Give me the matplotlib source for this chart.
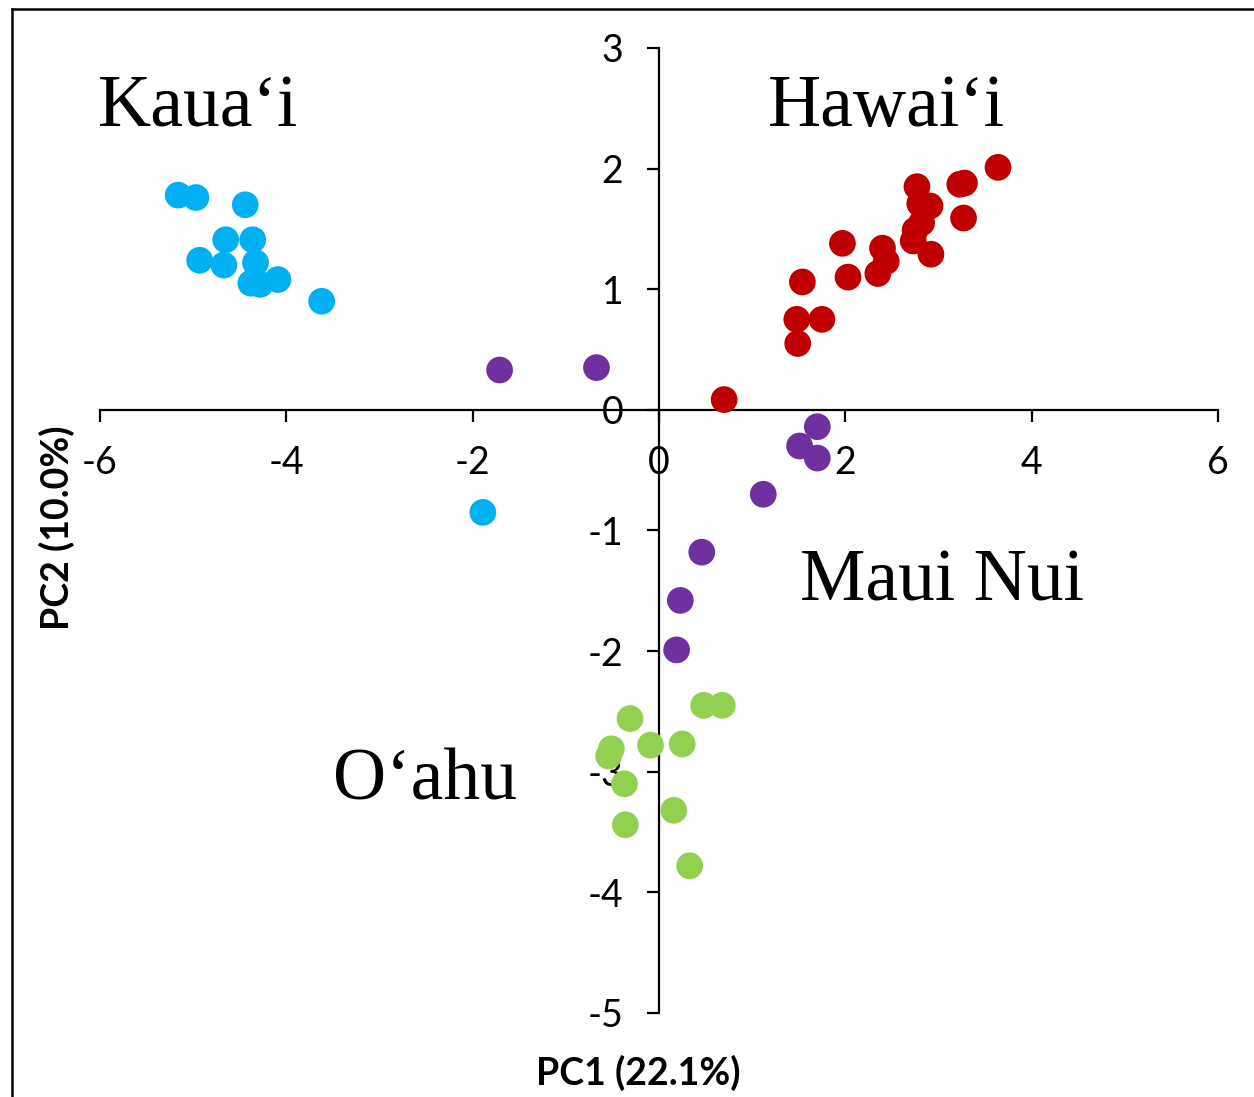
import matplotlib
matplotlib.use("Agg")
import matplotlib.pyplot as plt
from matplotlib.lines import Line2D

# PCA scores
kauai_x = [-5.16, -4.97, -4.44, -4.65, -4.36, -4.93, -4.67, -4.33, -4.38, -4.28, -4.09, -3.62, -1.89]
kauai_y = [1.78, 1.76, 1.70, 1.41, 1.41, 1.24, 1.20, 1.22, 1.05, 1.04, 1.08, 0.90, -0.85]

hawaii_x = [3.64, 3.28, 3.23, 2.77, 2.80, 2.91, 2.82, 2.75, 2.73, 2.92, 3.27,
            1.97, 2.40, 2.44, 2.35, 2.03, 1.54, 1.48, 1.75, 1.49, 0.70]
hawaii_y = [2.01, 1.88, 1.87, 1.85, 1.71, 1.69, 1.55, 1.49, 1.40, 1.29, 1.59,
            1.38, 1.34, 1.23, 1.13, 1.10, 1.06, 0.75, 0.75, 0.55, 0.085]

maui_x = [-1.71, -0.67, 1.70, 1.51, 1.70, 1.12, 0.46, 0.23, 0.19]
maui_y = [0.33, 0.35, -0.14, -0.30, -0.40, -0.70, -1.18, -1.58, -1.99]

oahu_x = [0.48, 0.68, -0.31, -0.51, -0.54, -0.09, 0.25, -0.37, 0.16, -0.36, 0.33]
oahu_y = [-2.45, -2.45, -2.56, -2.81, -2.87, -2.78, -2.77, -3.10, -3.32, -3.44, -3.78]

groups = [
    ("Kaua\u2018i", kauai_x, kauai_y, "#00B0F0", (-6.02, 2.35)),
    ("Hawai\u2018i", hawaii_x, hawaii_y, "#C00000", (1.17, 2.35)),
    ("Maui Nui", maui_x, maui_y, "#7030A0", (1.51, -1.58)),
    ("O\u2018ahu", oahu_x, oahu_y, "#92D050", (-3.50, -3.23)),
]

x_ticks = [-6, -4, -2, 0, 2, 4, 6]
y_ticks = [-5, -4, -3, -2, -1, 0, 1, 2, 3]

plt.rcParams['font.family'] = ['Lato', 'DejaVu Sans']
plt.rcParams['axes.unicode_minus'] = False

fig = plt.figure(figsize=(12.54, 10.97), dpi=100)
ax = fig.add_axes([0.0797, 0.0766, 0.8915, 0.8797])

for name, xs, ys, color, pos in groups:
    ax.scatter(xs, ys, s=370, color=color, edgecolors='none', zorder=3)
    ax.text(pos[0], pos[1], name, family='Liberation Serif', fontsize=53,
            ha='left', va='baseline')

ax.set_xlim(-6, 6)
ax.set_ylim(-5, 3)
ax.spines['left'].set_position(('data', 0))
ax.spines['bottom'].set_position(('data', 0))
ax.spines['top'].set_visible(False)
ax.spines['right'].set_visible(False)
for sp in ('left', 'bottom'):
    ax.spines[sp].set_linewidth(1.6)
ax.set_xticks(x_ticks)
ax.set_yticks(y_ticks)
ax.tick_params(axis='both', direction='out', length=8.5, width=1.6,
               labelsize=27, pad=17)

fig.text(638 / 1254, 1 - 1073 / 1097, "PC1 (22.1%)", fontsize=27,
         fontweight='bold', ha='center', va='center')
fig.text(57 / 1254, 1 - 528 / 1097, "PC2 (10.0%)", fontsize=27,
         fontweight='bold', ha='center', va='center', rotation=90)

# frame around the figure (left and top edges visible)
fx = 12 / 1254
fy = 1 - 9 / 1097
fig.add_artist(Line2D([fx, fx], [0, fy], transform=fig.transFigure, color='black', lw=1.8))
fig.add_artist(Line2D([fx, 1], [fy, fy], transform=fig.transFigure, color='black', lw=1.8))

fig.savefig("out.png", dpi=100)
